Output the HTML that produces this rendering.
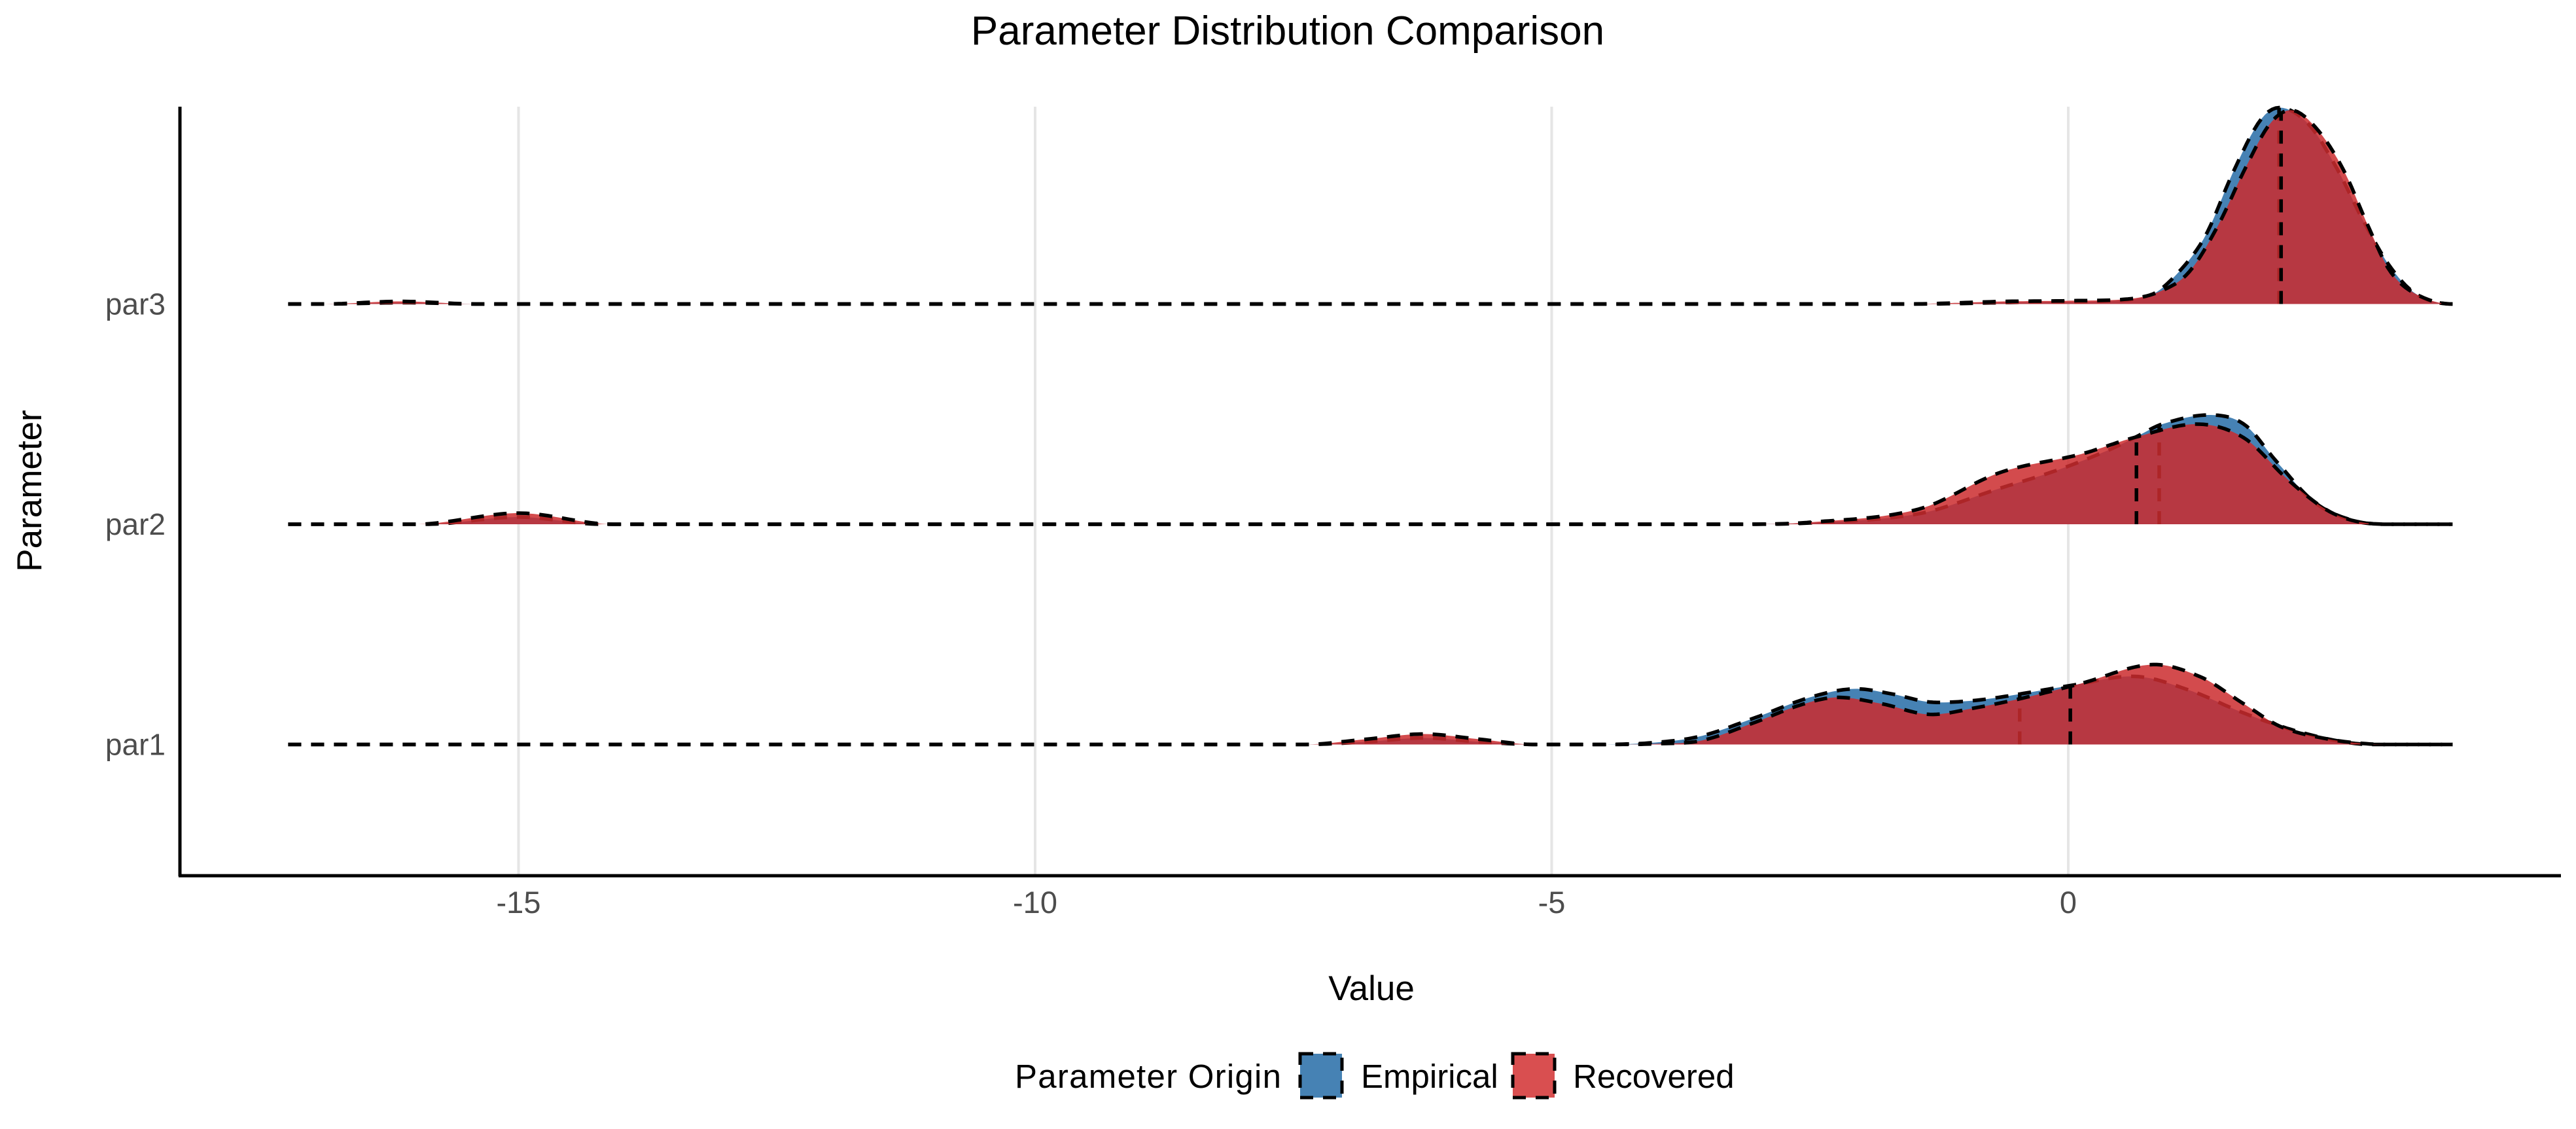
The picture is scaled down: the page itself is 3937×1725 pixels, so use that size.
<!DOCTYPE html>
<html><head><meta charset="utf-8">
<style>
html,body{margin:0;padding:0;background:#fff;}
svg{display:block;}
text{font-family:"Liberation Sans",Arial,sans-serif;}
</style></head>
<body>
<svg id="chart" width="3937" height="1725" viewBox="0 0 3937 1725" xmlns="http://www.w3.org/2000/svg">
  <text x="1968" y="68" font-size="62" text-anchor="middle" fill="#000">Parameter Distribution Comparison</text>
  <g id="grid"></g>
  <g id="ridges"></g>
  <line x1="275" y1="163" x2="275" y2="1339" stroke="#000" stroke-width="5"/>
  <line x1="273" y1="1338" x2="3914" y2="1338" stroke="#000" stroke-width="5"/>
  <g id="xticks"></g>
  <g id="yticks"></g>
  <text x="2096" y="1528" font-size="53" text-anchor="middle" fill="#000">Value</text>
  <text transform="translate(63,750) rotate(-90)" font-size="53" text-anchor="middle" fill="#000">Parameter</text>
  <g>
    <text x="1551" y="1662" font-size="51" textLength="407" fill="#000">Parameter Origin</text>
    <g>
      <rect x="1987" y="1610" width="64" height="67" fill="#4682b4" stroke="#000" stroke-width="5" stroke-dasharray="20 15"/>
      <text x="2080" y="1662" font-size="51" fill="#000">Empirical</text>
    </g>
    <g>
      <rect x="2312" y="1610" width="64" height="67" fill="#d94f50" stroke="#000" stroke-width="5" stroke-dasharray="20 15"/>
      <text x="2404" y="1662" font-size="51" fill="#000">Recovered</text>
    </g>
  </g>
</svg>
<script>
// ---- data ----
const categories = ["par1", "par2", "par3"];
const xTicks = [-15, -10, -5, 0];
const xTickLabels = ["-15", "-10", "-5", "0"];
const xRange = [-17.23, 3.72];
// density knots: [value, density(height units)]
const par1Empirical = [[-7.4,0],[-6.8,4],[-6.24,10],[-5.7,4],[-5.2,0],[-4.5,0],[-4.0,3],[-3.55,13],[-3.03,41],[-2.5,72],[-2.08,85],[-1.7,77],[-1.35,65],[-1.0,66],[-0.67,72],[0.02,90],[0.65,104],[1.17,83],[1.7,48],[2.22,20],[2.75,2],[3.2,0]];
const par1Recovered = [[-7.4,0],[-6.8,8],[-6.24,16],[-5.7,8],[-5.2,0],[-4.4,0],[-4.0,1],[-3.55,6],[-3.03,34],[-2.6,60],[-2.24,72],[-1.8,62],[-1.35,46],[-0.9,56],[-0.41,72],[0.12,93],[0.8,122],[1.27,104],[1.7,62],[2.06,27],[2.49,9],[2.9,1],[3.3,0]];
const par2Empirical = [[-15.9,0],[-15.0,11],[-14.2,0],[-3.2,0],[-2.5,2],[-1.45,16],[-0.66,55],[-0.1,83],[0.4,114],[0.65,133],[0.91,153],[1.36,167],[1.7,153],[2.01,97],[2.38,34],[2.75,6],[3.1,0]];
const par2Recovered = [[-16.0,0],[-15.0,17],[-14.1,0],[-3.3,0],[-2.5,3],[-1.45,23],[-0.66,79],[0.12,107],[0.65,133],[1.25,153],[1.7,132],[2.12,69],[2.49,23],[2.8,4],[3.2,0]];
const par3Empirical = [[-16.9,0],[-16.1,2],[-15.4,0],[-1.5,0],[-0.31,3],[0.3,4],[0.8,14],[1.07,49],[1.33,105],[1.6,203],[1.86,281],[2.06,300],[2.33,274],[2.59,210],[2.86,126],[3.12,56],[3.38,14],[3.72,0]];
const par3Recovered = [[-16.9,0],[-16.14,4],[-15.4,0],[-1.6,0],[-0.6,4],[0.0,5],[0.6,8],[0.9,20],[1.17,49],[1.45,120],[1.7,203],[1.95,275],[2.17,296],[2.42,265],[2.67,203],[2.9,120],[3.12,49],[3.38,14],[3.72,0]];
const empiricalMedians = [-0.47, 0.88, 2.04];
const recoveredMedians = [0.02, 0.66, 2.06];
const series = [
  {par: "par1", emp: par1Empirical, rec: par1Recovered},
  {par: "par2", emp: par2Empirical, rec: par2Recovered},
  {par: "par3", emp: par3Empirical, rec: par3Recovered}
];

// ---- scales ----
const NS = "http://www.w3.org/2000/svg";
const X0 = 3161, XU = 157.9;
function xScale(v){ return X0 + XU * v; }
const baseTop = 464.5, baseStep = 336.5;
function yBase(i){ return baseTop + (categories.length - 1 - i) * baseStep; }
function hScale(d){ return d; }

function dens(knots, v){
  if (v <= knots[0][0] || v >= knots[knots.length-1][0]) return 0;
  let k = 0;
  while (knots[k+1][0] < v) k++;
  const n = knots.length;
  const p = (j) => knots[Math.max(0, Math.min(n-1, j))];
  const a = p(k), b = p(k+1);
  const slope = (j) => {
    const l = p(j-1), r = p(j+1);
    if (j <= 0 || j >= n-1) return 0;
    return (r[1]-l[1])/(r[0]-l[0]);
  };
  const h = b[0]-a[0], t = (v-a[0])/h;
  const m0 = slope(k)*h, m1 = slope(k+1)*h;
  const t2=t*t, t3=t2*t;
  const y = (2*t3-3*t2+1)*a[1] + (t3-2*t2+t)*m0 + (-2*t3+3*t2)*b[1] + (t3-t2)*m1;
  return Math.max(0, y);
}
function pathFor(knots, i, closed){
  const yb = yBase(i);
  let d = "";
  const N = 600;
  for (let s = 0; s <= N; s++){
    const v = xRange[0] + (xRange[1]-xRange[0]) * s / N;
    const x = xScale(v), y = yb - hScale(dens(knots, v));
    d += (s === 0 ? "M" : "L") + x.toFixed(1) + "," + y.toFixed(1);
  }
  if (closed) d += "L" + xScale(xRange[1]).toFixed(1) + "," + yb + "L" + xScale(xRange[0]).toFixed(1) + "," + yb + "Z";
  return d;
}

// gridlines & ticks
const grid = document.getElementById("grid");
const xt = document.getElementById("xticks");
xTicks.forEach((t, k) => {
  const l = document.createElementNS(NS, "line");
  l.setAttribute("x1", xScale(t)); l.setAttribute("x2", xScale(t));
  l.setAttribute("y1", 163); l.setAttribute("y2", 1338);
  l.setAttribute("stroke", "#e5e5e5"); l.setAttribute("stroke-width", "4");
  
  
  grid.appendChild(l);
  const tx = document.createElementNS(NS, "text");
  tx.setAttribute("x", xScale(t)); tx.setAttribute("y", 1395);
  tx.setAttribute("font-size", "47"); tx.setAttribute("text-anchor", "middle"); tx.setAttribute("fill", "#4d4d4d");
  tx.textContent = xTickLabels[k];
  
  
  xt.appendChild(tx);
});
const yt = document.getElementById("yticks");
categories.forEach((c, i) => {
  const tx = document.createElementNS(NS, "text");
  tx.setAttribute("x", 253); tx.setAttribute("y", yBase(i) + 16);
  tx.setAttribute("font-size", "46"); tx.setAttribute("text-anchor", "end"); tx.setAttribute("fill", "#4d4d4d");
  tx.textContent = c;
  
  
  yt.appendChild(tx);
});

// ridges
const ridges = document.getElementById("ridges");
series.forEach((s, i) => {
  const g = document.createElementNS(NS, "g");
  
  
  ridges.appendChild(g);
  [["emp", "#4682b4", 1, "empirical", empiricalMedians], ["rec", "rgb(203,43,46)", 0.85, "recovered", recoveredMedians]].forEach(cfg => {
    const knots = s[cfg[0]];
    const f = document.createElementNS(NS, "path");
    f.setAttribute("d", pathFor(knots, i, true));
    f.setAttribute("fill", cfg[1]); f.setAttribute("fill-opacity", cfg[2]);
    
    
    g.appendChild(f);
    const o = document.createElementNS(NS, "path");
    o.setAttribute("d", pathFor(knots, i, false));
    o.setAttribute("fill", "none"); o.setAttribute("stroke", "#000"); o.setAttribute("stroke-width", "5.5");
    o.setAttribute("stroke-dasharray", "20 15");
    
    
    g.appendChild(o);
    const med = cfg[4][i];
    const m = document.createElementNS(NS, "line");
    m.setAttribute("x1", xScale(med)); m.setAttribute("x2", xScale(med));
    m.setAttribute("y1", yBase(i)); m.setAttribute("y2", yBase(i) - hScale(dens(knots, med)));
    m.setAttribute("stroke", "#000"); m.setAttribute("stroke-width", "5.5"); m.setAttribute("stroke-dasharray", "20 15");
    
    
    g.appendChild(m);
  });
});
</script>
</body></html>
